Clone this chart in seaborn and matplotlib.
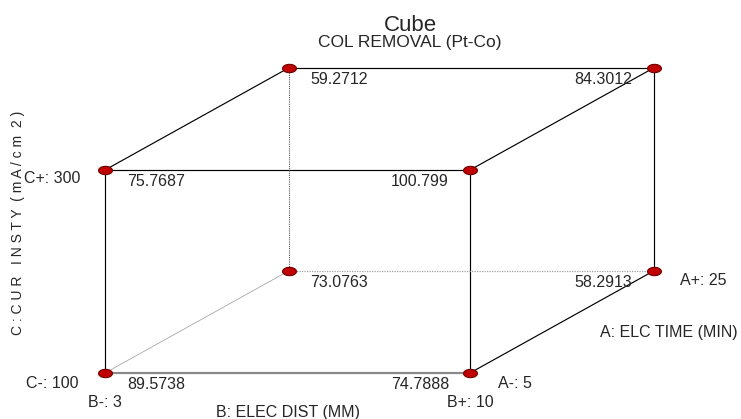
import numpy as np
import pandas as pd
import matplotlib
matplotlib.use("Agg")
import matplotlib.pyplot as plt
from matplotlib.path import Path
import seaborn as sns

# Factor levels of the 2^3 design
factor_a_levels = [5, 25]        # A: ELC TIME (MIN)
factor_b_levels = [3, 10]        # B: ELEC DIST (MM)
factor_c_levels = [100, 300]     # C: CUR INSTY (mA/cm2)

# Coded runs in standard order (A, B, C) and the predicted response
run_a = [0, 1, 0, 1, 0, 1, 0, 1]
run_b = [0, 0, 1, 1, 0, 0, 1, 1]
run_c = [0, 0, 0, 0, 1, 1, 1, 1]
response = [89.5738, 73.0763, 74.7888, 58.2913, 75.7687, 59.2712, 100.799, 84.3012]

title = "Cube"
subtitle = "COL REMOVAL (Pt-Co)"
a_name = "A: ELC TIME (MIN)"
b_name = "B: ELEC DIST (MM)"
c_name = "C : C U R   I N S T Y  ( m A / c m  2 )"

# Oblique projection of the unit cube onto the canvas (pixel units, y down)
X0, Y0 = 105.0, 373.0
W, H = 365.0, 203.0
DX, DY = 183.5, 102.0


def proj(a, b, c):
    return X0 + b * W + a * DX, Y0 - c * H - a * DY


df = pd.DataFrame({"a": run_a, "b": run_b, "c": run_c, "y": response})
df["px"] = [proj(a, b, c)[0] for a, b, c in zip(df.a, df.b, df.c)]
df["py"] = [proj(a, b, c)[1] for a, b, c in zip(df.a, df.b, df.c)]

sns.set_theme(style="white")
plt.rcParams["font.family"] = ["Liberation Sans", "DejaVu Sans"]

fig = plt.figure(figsize=(7.41, 4.19), dpi=100)
fig.patch.set_facecolor("white")
ax = fig.add_axes([0, 0, 1, 1])
ax.set_xlim(0, 741)
ax.set_ylim(419, 0)
ax.set_axis_off()

# Cube edges: (start, end, style)
solid = dict(color="black", lw=0.85, ls="-")
edges = [
    ((0, 0, 1), (0, 1, 1), solid),
    ((0, 0, 0), (0, 0, 1), solid),
    ((0, 1, 0), (0, 1, 1), solid),
    ((0, 0, 0), (0, 1, 0), dict(color="#8a8a8a", lw=1.6, ls="-")),
    ((0, 0, 1), (1, 0, 1), solid),
    ((0, 1, 1), (1, 1, 1), solid),
    ((1, 0, 1), (1, 1, 1), solid),
    ((1, 1, 0), (1, 1, 1), solid),
    ((0, 1, 0), (1, 1, 0), solid),
    ((1, 0, 0), (1, 0, 1), dict(color="#555555", lw=0.8, ls=(0, (1, 1)))),
    ((1, 0, 0), (1, 1, 0), dict(color="#a0a0a0", lw=0.9, ls=(0, (1, 1)))),
    ((0, 0, 0), (1, 0, 0), dict(color="#a8a8a8", lw=0.6, ls="-")),
]
for p, q, st in edges:
    x1, y1 = proj(*p)
    x2, y2 = proj(*q)
    ax.plot([x1, x2], [y1, y2], color=st["color"], lw=st["lw"], ls=st["ls"],
            solid_capstyle="butt", zorder=2)

# Elliptical design-point markers
t = np.linspace(0, 2 * np.pi, 49)
ellipse = Path(np.column_stack([np.cos(t), 0.6 * np.sin(t)]), closed=True)
sns.scatterplot(data=df, x="px", y="py", ax=ax, marker=ellipse, s=100,
                color="#c00000", edgecolor="#700000", linewidth=0.8,
                legend=False, zorder=5)

fs = 11.5
# Response values next to each vertex
for _, r in df.iterrows():
    if r.b == 0:
        ax.text(r.px + 22, r.py + 16, f"{r.y:.6g}", ha="left", va="baseline", fontsize=fs)
    else:
        ax.text(r.px - 21, r.py + 16, f"{r.y:.6g}", ha="right", va="baseline", fontsize=fs)

# Factor level labels
x, y = proj(0, 0, 0)
ax.text(x - 26, y + 15, f"C-: {factor_c_levels[0]}", ha="right", va="baseline", fontsize=fs)
ax.text(x, y + 34, f"B-: {factor_b_levels[0]}", ha="center", va="baseline", fontsize=fs)
x, y = proj(0, 0, 1)
ax.text(x - 25, y + 13, f"C+: {factor_c_levels[1]}", ha="right", va="baseline", fontsize=fs)
x, y = proj(0, 1, 0)
ax.text(x, y + 34, f"B+: {factor_b_levels[1]}", ha="center", va="baseline", fontsize=fs)
ax.text(x + 28, y + 15, f"A-: {factor_a_levels[0]}", ha="left", va="baseline", fontsize=fs)
x, y = proj(1, 1, 0)
ax.text(x + 26, y + 14, f"A+: {factor_a_levels[1]}", ha="left", va="baseline", fontsize=fs)

# Factor names
ax.text(600, 337, a_name, ha="left", va="baseline", fontsize=fs)
ax.text((proj(0, 0, 0)[0] + proj(0, 1, 0)[0]) / 2, 417, b_name,
        ha="center", va="baseline", fontsize=fs)
ax.text(18, 223, c_name, rotation=90, ha="center", va="center", fontsize=10)

# Titles
ax.text(410, 31, title, ha="center", va="baseline", fontsize=16)
ax.text(410, 47, subtitle, ha="center", va="baseline", fontsize=12.5)

fig.savefig("out.png", dpi=100, facecolor="white")
